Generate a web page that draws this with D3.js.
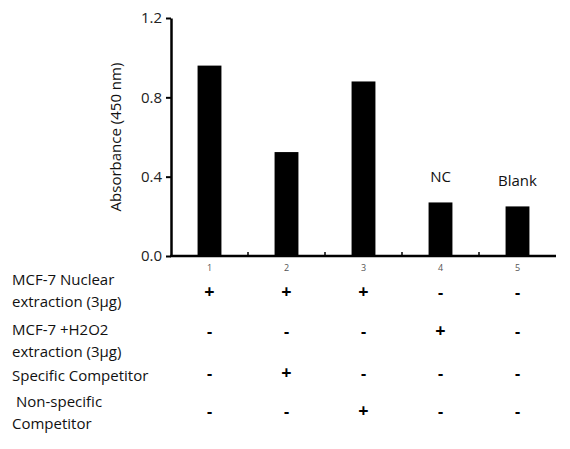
<!DOCTYPE html><html><head><script src="https://cdn.jsdelivr.net/npm/d3@7"></script>
<style>body{margin:0;background:#fff}text{font-family:"Open Sans","Liberation Sans",sans-serif}</style></head><body>
<script>
const categories=["1","2","3","4","5"];
const values=[0.96,0.524,0.88,0.27,0.25];
const barLabels=["","","","NC","Blank"];
const yTicks=[0,0.4,0.8,1.2];
const rowLabels=[["MCF-7 Nuclear","extraction (3μg)"],["MCF-7 +H2O2","extraction (3μg)"],["Specific Competitor"],["Non-specific","Competitor"]];
const signs=[["+","+","+","-","-"],["-","-","-","+","-"],["-","+","-","-","-"],["-","-","+","-","-"]];
const W=570,H=449;
const svg=d3.select("body").append("svg").attr("width",W).attr("height",H);
const x=d3.scaleBand().domain(categories).range([171,556]).paddingInner(0.69).paddingOuter(0.345);
const y=d3.scaleLinear().domain([0,1.2]).range([256,18]);
const cx=c=>x(c)+x.bandwidth()/2;
svg.selectAll("rect.b").data(values).join("rect").attr("x",(d,i)=>x(categories[i])).attr("width",x.bandwidth())
 .attr("y",d=>y(d)).attr("height",d=>y(0)-y(d)).attr("fill","#000");
const ya=svg.append("g").attr("transform","translate(171,0)").call(d3.axisLeft(y).tickValues(yTicks).tickFormat(d3.format(".1f")).tickSize(5).tickSizeOuter(0));
ya.select(".domain").attr("stroke-width",2.5);
ya.selectAll(".tick line").attr("stroke-width",2);
ya.selectAll("text").attr("font-size",15).attr("fill","#222").style("font-family","Open Sans").attr("x",-9);
const step=x.step();
const base=svg.append("g");
base.append("line").attr("x1",170).attr("x2",556).attr("y1",256).attr("y2",256).attr("stroke","#000").attr("stroke-width",2.5);
categories.slice(1).forEach(c=>base.append("line").attr("x1",cx(c)-step/2).attr("x2",cx(c)-step/2).attr("y1",256).attr("y2",252).attr("stroke","#000").attr("stroke-width",1.5));
categories.forEach(c=>svg.append("text").attr("x",cx(c)).attr("y",271).attr("text-anchor","middle").attr("font-size",9).attr("fill","#555").text(c));
values.forEach((v,i)=>{if(barLabels[i])svg.append("text").attr("x",cx(categories[i])).attr("y",y(v)-20).attr("text-anchor","middle").attr("font-size",15).attr("fill","#111").text(barLabels[i]);});
svg.append("text").attr("transform","translate(121,137) rotate(-90)").attr("text-anchor","middle").attr("font-size",15).attr("fill","#111").text("Absorbance (450 nm)");
const rowY=[[285,307],[335,357],[381],[407,429]];
const signY=[298,337,379,417];
rowLabels.forEach((r,i)=>{r.forEach((t,j)=>svg.append("text").attr("x",j===0||i<2?(i===3?16:12):12).attr("y",rowY[i][j]).attr("font-size",15).attr("fill","#111").text(t));
 signs[i].forEach((s,k)=>svg.append("text").attr("x",cx(categories[k])).attr("y",signY[i]).attr("text-anchor","middle").attr("font-size",s==="+"?18:16).attr("font-weight","bold").attr("fill","#000").text(s));});
</script></body></html>
